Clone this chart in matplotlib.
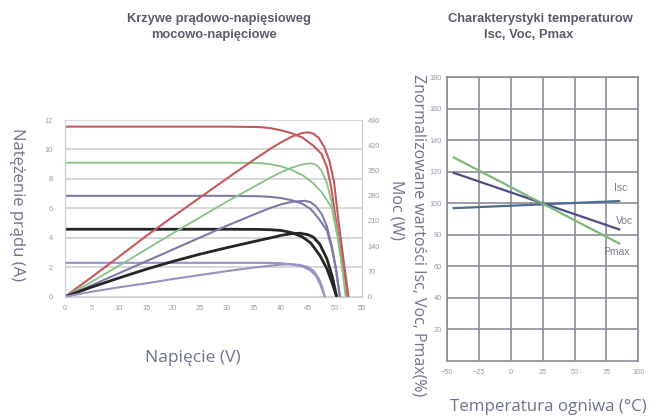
import numpy as np
import matplotlib
matplotlib.use("Agg")
import matplotlib.pyplot as plt

# ---- I-V / P-V curves ----
# red series
red_v_i = [0, 10, 20, 30, 36, 38, 40, 42, 44, 46, 47.5, 48.5, 49.3, 50, 51, 52.3]
red_i = [11.55, 11.55, 11.55, 11.55, 11.52, 11.45, 11.3, 11.1, 10.8, 10.25, 9.7, 8.8, 7.4, 5.6, 3.2, 0]
red_v_p = [0, 5, 10, 15, 20, 25, 30, 35, 38, 40, 42, 44, 45, 46, 47, 48, 49, 49.8, 50.6, 51.5, 52.5]
red_p = [0, 55, 111, 168, 222, 275, 328, 380, 410, 428, 444, 454, 456, 452, 440, 415, 375, 320, 215, 110, 0]

# green series
green_v_i = [0, 30, 36, 38, 40, 42, 44, 46, 47.5, 48.6, 49.4, 50.5, 51.3, 52]
green_i = [9.1, 9.1, 9.08, 9.0, 8.85, 8.6, 8.25, 7.7, 7.1, 6.5, 6.0, 4.0, 2.0, 0]
green_v_p = [0, 5, 10, 15, 20, 25, 30, 35, 38, 40, 42, 44, 45.5, 46.5, 47.5, 48.5, 49.4, 50.5, 51.3, 52]
green_p = [0, 42, 86, 131, 176, 220, 264, 305, 330, 345, 358, 367, 370, 366, 350, 315, 260, 170, 85, 0]

# purple series
purple_v_i = [0, 30, 36, 38, 40, 42, 44, 45.5, 47, 48.5, 49.4, 50.2, 50.9]
purple_i = [6.85, 6.85, 6.82, 6.78, 6.7, 6.55, 6.3, 5.95, 5.3, 4.5, 3.3, 1.8, 0]
purple_v_p = [0, 5, 10, 15, 20, 25, 30, 35, 38, 40, 42, 44.4, 45.5, 46.5, 47.5, 48.5, 49.4, 50.2, 50.9]
purple_p = [0, 32, 65, 98, 131, 164, 197, 228, 246, 256, 263, 266, 262, 250, 230, 195, 140, 75, 0]

# black series
black_v_i = [0, 30, 36, 38, 40, 42, 44, 45.5, 47.2, 48.5, 49.5, 50.3]
black_i = [4.58, 4.58, 4.57, 4.55, 4.5, 4.35, 4.05, 3.65, 2.8, 1.9, 0.9, 0]
black_v_p = [0, 5, 10, 15, 20, 25, 30, 35, 38, 40, 42, 43.5, 45, 46, 47.2, 48.5, 49.5, 50.3]
black_p = [0, 27, 52, 76, 98, 118, 136, 153, 163, 170, 175, 176, 172, 165, 145, 105, 55, 0]

# light purple series
lpurple_v_i = [0, 30, 36, 38, 40, 42, 44, 45.4, 46.5, 47.3, 48.1]
lpurple_i = [2.3, 2.3, 2.3, 2.29, 2.27, 2.2, 2.05, 1.8, 1.4, 0.8, 0]
lpurple_v_p = [0, 5, 10, 15, 20, 25, 30, 35, 38, 40, 42, 43.5, 45, 46, 47, 47.6, 48.1]
lpurple_p = [0, 14, 26, 37, 49, 60, 71, 81, 86, 89, 90, 88, 82, 72, 50, 28, 0]

# ---- temperature characteristics ----
temp = [-45, 85]
isc_pct = [97, 101.5]
voc_pct = [119.4, 83.5]
pmax_pct = [129.2, 74.6]

left_yticks = [0, 2, 4, 6, 8, 10, 12]
right_yticks = [0, 70, 140, 210, 280, 350, 420, 490]
volt_ticks = [0, 5, 10, 15, 20, 25, 30, 35, 40, 45, 50, 55]
temp_ticks = [-50, -25, 0, 25, 50, 75, 100]
pct_ticks = [20, 40, 60, 80, 100, 120, 140, 160, 180]

plt.rcParams['font.family'] = ['Liberation Sans', 'DejaVu Sans']
label_font = ['Open Sans', 'DejaVu Sans']

fig = plt.figure(figsize=(6.58, 4.19), dpi=100)

tick_col = '#9a9aa6'
label_col = '#6e7390'
title_col = '#5a5a6a'
c_red = '#c4585c'
c_green = '#86c386'
c_purple = '#7c7aa8'
c_black = '#252525'
c_lpurple = '#9593c2'

# left chart
ax = fig.add_axes([0.0988, 0.2919, 0.4514, 0.4217])
ax2 = ax.twinx()
ax.set_xlim(0, 55)
ax.set_ylim(0, 12)
ax2.set_ylim(0, 490)
ax.set_xticks(volt_ticks)
ax.set_yticks(left_yticks)
ax2.set_yticks(right_yticks)
ax.grid(axis='y', color='#d4d4d8', lw=1.3)
ax.set_axisbelow(True)
for a in (ax, ax2):
    for s in a.spines.values():
        s.set_color('#d0d0d4')
    a.spines['top'].set_visible(False)
    a.tick_params(length=0, labelsize=5.3, colors=tick_col)
ax.tick_params(axis='y', pad=9)
ax.tick_params(axis='x', pad=6)
ax2.tick_params(axis='y', pad=4)

series = [
    (red_v_i, red_i, red_v_p, red_p, c_red, 1.5),
    (green_v_i, green_i, green_v_p, green_p, c_green, 1.3),
    (purple_v_i, purple_i, purple_v_p, purple_p, c_purple, 1.5),
    (black_v_i, black_i, black_v_p, black_p, c_black, 2.0),
    (lpurple_v_i, lpurple_i, lpurple_v_p, lpurple_p, c_lpurple, 1.5),
]
for vi, ii, vp, pp, col, lw in series:
    ax.plot(vi, ii, color=col, lw=lw, solid_capstyle='round')
    ax2.plot(vp, pp, color=col, lw=lw, solid_capstyle='round')

fig.text(0.293, 0.146, 'Napięcie (V)', fontsize=12.5, color=label_col,
         ha='center', va='center', family=label_font)
fig.text(0.026, 0.511, 'Natężenie prądu (A)', rotation=-90, fontsize=12,
         color=label_col, ha='center', va='center', family=label_font)
fig.text(0.603, 0.5, 'Moc (W)', rotation=-90, fontsize=11.5,
         color=label_col, ha='center', va='center', family=label_font)

fig.text(0.332, 0.955, 'Krzywe prądowo-napięsioweg', fontsize=9.3, fontweight='bold',
         color=title_col, ha='center', va='center')
fig.text(0.325, 0.916, 'mocowo-napięciowe', fontsize=9.3, fontweight='bold',
         color=title_col, ha='center', va='center')

# right chart
bx = fig.add_axes([0.6798, 0.1384, 0.2903, 0.677])
bx.set_xlim(-50, 100)
bx.set_ylim(0, 180)
bx.set_xticks(temp_ticks)
bx.set_yticks(pct_ticks)
bx.grid(True, color='#8c8c98', lw=1.2)
bx.set_axisbelow(True)
for s in bx.spines.values():
    s.set_color('#8c8c98')
    s.set_linewidth(1.2)
bx.tick_params(length=0, labelsize=5.3, colors=tick_col)
bx.tick_params(axis='y', pad=4)
bx.tick_params(axis='x', pad=6)

bx.plot(temp, isc_pct, color='#4d6c8e', lw=1.6)
bx.plot(temp, voc_pct, color='#4c4c82', lw=1.6)
bx.plot(temp, pmax_pct, color='#7cb97c', lw=1.6)
bx.text(86.5, 110, 'Isc', fontsize=7.5, color='#7a7a90', ha='center', va='center')
bx.text(89, 89, 'Voc', fontsize=7.5, color='#7a7a90', ha='center', va='center')
bx.text(82.6, 69, 'Pmax', fontsize=7.5, color='#7a7a90', ha='center', va='center')

fig.text(0.833, 0.029, 'Temperatura ogniwa (°C)', fontsize=12.2, color=label_col,
         ha='center', va='center', family=label_font)
fig.text(0.636, 0.44, 'Znormalizowane wartości Isc, Voc, Pmax(%)', rotation=-90,
         fontsize=11.5, color=label_col, ha='center', va='center', family=label_font)

fig.text(0.821, 0.955, 'Charakterystyki temperaturow', fontsize=9.3, fontweight='bold',
         color=title_col, ha='center', va='center')
fig.text(0.804, 0.916, 'Isc, Voc, Pmax', fontsize=9.3, fontweight='bold',
         color=title_col, ha='center', va='center')

fig.savefig('out.png', dpi=100)
